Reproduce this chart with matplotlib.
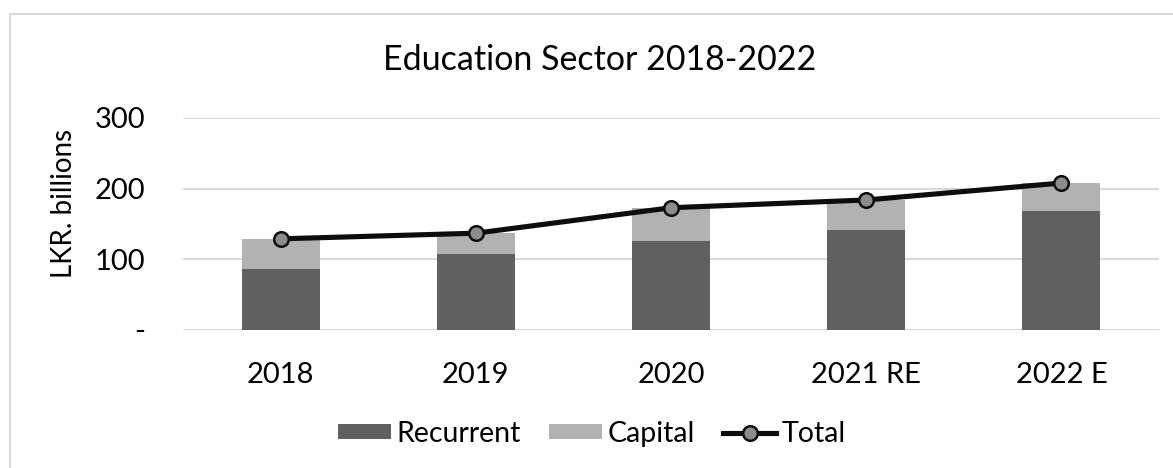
import matplotlib.pyplot as plt
import numpy as np
from matplotlib.patches import Rectangle

plt.rcParams['font.family'] = ['Lato', 'DejaVu Sans']

years = ["2018", "2019", "2020", "2021 RE", "2022 E"]
recurrent = [87, 108, 126, 142, 169]
capital = [42, 29, 47, 42, 39]
total = [129, 137, 173, 184, 208]

W, H = 1173, 468
fig = plt.figure(figsize=(W / 100, H / 100), dpi=100)
ax = fig.add_axes([183 / W, 1 - 330 / H, (1159 - 183) / W, (330 - 118) / H])

x = np.arange(len(years))
b1 = ax.bar(x, recurrent, width=0.4, color="#606060", label="Recurrent", zorder=2)
b2 = ax.bar(x, capital, width=0.4, bottom=recurrent, color="#b2b2b2", label="Capital", zorder=2)
l1, = ax.plot(x, total, color="#0d0d0d", lw=3.7, marker="o", ms=10.5, mfc="#8c8c8c",
              mec="#0d0d0d", mew=1.8, label="Total", zorder=3)

ax.set_xlim(-0.5, 4.5)
ax.set_ylim(0, 300)
ax.set_yticks([0, 100, 200, 300])
ax.set_yticklabels(["-", "100", "200", "300"])
ax.set_xticks(x)
ax.set_xticklabels(years)
ax.tick_params(axis="both", length=0, labelsize=21, colors="black")
ax.tick_params(axis="y", pad=27)
ax.tick_params(axis="x", pad=23)
ax.grid(axis="y", color="#d9d9d9", lw=1.5, zorder=0)
for s in ax.spines.values():
    s.set_visible(False)

fig.text(64 / W, 1 - 203 / H, "LKR. billions", fontsize=20, rotation=90, ha="center", va="center")
fig.text(600 / W, 1 - 60 / H, "Education Sector 2018-2022", fontsize=24.5, ha="center", va="center")

fig.legend([b1, b2, l1], ["Recurrent", "Capital", "Total"], loc="center",
           bbox_to_anchor=(592 / W, 1 - 434 / H), ncol=3, frameon=False, fontsize=20.5,
           handlelength=1.85, handleheight=0.42, handletextpad=0.2, columnspacing=1.0,
           borderaxespad=0, borderpad=0)

# chart area border
fig.patches.append(Rectangle((10 / W, -0.01), 1.1, 1 - 14 / H + 0.01, transform=fig.transFigure,
                             fill=False, ec="#d9d9d9", lw=1.5))

fig.savefig("out.png", dpi=100)
